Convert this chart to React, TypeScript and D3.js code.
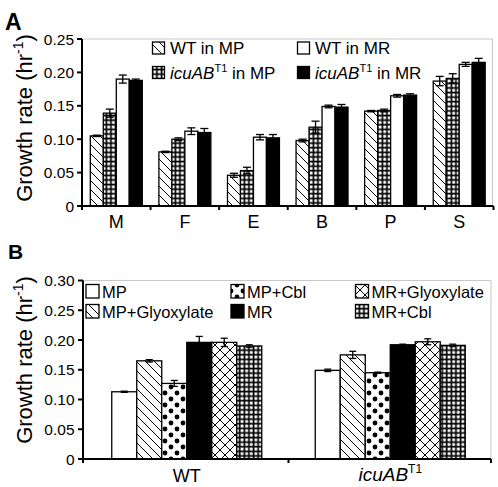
import React from "react";
import * as d3 from "d3";

// ---------- Panel A data ----------
const categoriesA = ["M", "F", "E", "B", "P", "S"];
const seriesA = ["wtMP", "icuMP", "wtMR", "icuMR"];
const wtMP = [0.105, 0.081, 0.046, 0.098, 0.142, 0.187];
const wtMPErr = [0.001, 0.001, 0.003, 0.002, 0.001, 0.007];
const icuMP = [0.139, 0.1, 0.053, 0.118, 0.143, 0.191];
const icuMPErr = [0.006, 0.002, 0.005, 0.009, 0.002, 0.007];
const wtMR = [0.19, 0.112, 0.103, 0.149, 0.165, 0.212];
const wtMRErr = [0.006, 0.005, 0.004, 0.002, 0.002, 0.003];
const icuMR = [0.188, 0.11, 0.102, 0.148, 0.166, 0.215];
const icuMRErr = [0.002, 0.006, 0.005, 0.004, 0.002, 0.006];
const ticksA = [0, 0.05, 0.1, 0.15, 0.2, 0.25];
const tickLabelsA = ["0", "0.05", "0.10", "0.15", "0.20", "0.25"];

// ---------- Panel B data ----------
const categoriesB = ["WT", "icuAB"];
const seriesB = ["MP", "MP+Glyoxylate", "MP+Cbl", "MR", "MR+Glyoxylate", "MR+Cbl"];
const bMP = [0.113, 0.149];
const bMPErr = [0.001, 0.002];
const bMPGly = [0.165, 0.175];
const bMPGlyErr = [0.002, 0.006];
const bMPCbl = [0.127, 0.145];
const bMPCblErr = [0.005, 0.001];
const bMR = [0.196, 0.192];
const bMRErr = [0.01, 0.001];
const bMRGly = [0.196, 0.197];
const bMRGlyErr = [0.007, 0.005];
const bMRCbl = [0.19, 0.191];
const bMRCblErr = [0.002, 0.002];
const ticksB = [0, 0.05, 0.1, 0.15, 0.2, 0.25, 0.3];
const tickLabelsB = ["0", "0.05", "0.10", "0.15", "0.20", "0.25", "0.30"];

const valuesA = [wtMP, icuMP, wtMR, icuMR];
const errsA = [wtMPErr, icuMPErr, wtMRErr, icuMRErr];
const fillsA = ["url(#hatch)", "url(#grid)", "#fff", "#000"];

const valuesB = [bMP, bMPGly, bMPCbl, bMR, bMRGly, bMRCbl];
const errsB = [bMPErr, bMPGlyErr, bMPCblErr, bMRErr, bMRGlyErr, bMRCblErr];
const fillsB = ["#fff", "url(#hatch)", "url(#dots)", "#000", "url(#cross)", "url(#grid)"];

const FONT = "'Liberation Sans', Arial, Helvetica, sans-serif";

function ErrorBar({ x, y0, y1, w }: { x: number; y0: number; y1: number; w: number }) {
  return (
    <g stroke="#000" strokeWidth={1.3}>
      <line x1={x} x2={x} y1={y0} y2={y1} />
      <line x1={x - w / 2} x2={x + w / 2} y1={y0} y2={y0} />
      <line x1={x - w / 2} x2={x + w / 2} y1={y1} y2={y1} />
    </g>
  );
}

function YLabel({ x, y }: { x: number; y: number }) {
  return (
    <text
      transform={`translate(${x},${y}) rotate(-90)`}
      textAnchor="middle"
      fontSize={22}
      fontFamily={FONT}
    >
      Growth rate (hr
      <tspan fontSize={14} dy={-9}>-1</tspan>
      <tspan dy={9}>)</tspan>
    </text>
  );
}

export default function App() {
  // Panel A scales
  const axA = { left: 82, right: 493.5, top: 39, bottom: 206 };
  const xA = d3.scaleBand<string>().domain(categoriesA).range([axA.left, axA.right]);
  const xAi = d3
    .scaleBand<string>()
    .domain(seriesA)
    .range([0, xA.bandwidth()])
    .paddingInner(0)
    .paddingOuter(0.64);
  const yA = d3.scaleLinear().domain([0, 0.25]).range([axA.bottom, axA.top]);

  // Panel B scales
  const axB = { left: 83, right: 491, top: 280.5, bottom: 459 };
  const xB = d3.scaleBand<string>().domain(categoriesB).range([85, 492]);
  const xBi = d3
    .scaleBand<string>()
    .domain(seriesB)
    .range([0, xB.bandwidth()])
    .paddingInner(0)
    .paddingOuter(1.07);
  const yB = d3.scaleLinear().domain([0, 0.3]).range([axB.bottom, axB.top]);

  const boundariesA = categoriesA.map((c) => xA(c)!).concat([axA.right]);

  return (
    <svg
      width={498}
      height={487}
      style={{ position: "absolute", left: 0, top: 0, background: "#fff" }}
      fontFamily={FONT}
    >
      <defs>
        <pattern id="hatch" patternUnits="userSpaceOnUse" width={9} height={9}>
          <rect width={9} height={9} fill="#fff" />
          <path d="M0,0 L9,9 M-1,8 L1,10 M8,-1 L10,1" stroke="#000" strokeWidth={1} />
        </pattern>
        <pattern id="grid" patternUnits="userSpaceOnUse" width={4.6} height={4.6}>
          <rect width={4.6} height={4.6} fill="#000" />
          <rect x={1.4} y={1.4} width={2.9} height={2.9} fill="#fff" />
        </pattern>
        <pattern id="dots" patternUnits="userSpaceOnUse" width={12} height={12}>
          <rect width={12} height={12} fill="#fff" />
          <circle cx={3} cy={3} r={2.4} fill="#000" />
          <circle cx={9} cy={9} r={2.4} fill="#000" />
        </pattern>
        <pattern id="cross" patternUnits="userSpaceOnUse" width={10} height={10}>
          <rect width={10} height={10} fill="#fff" />
          <path
            d="M0,0 L10,10 M-1,9 L1,11 M9,-1 L11,1 M0,10 L10,0 M-1,1 L1,-1 M9,11 L11,9"
            stroke="#000"
            strokeWidth={1}
          />
        </pattern>
      </defs>

      {/* ================= Panel A ================= */}
      <text x={5} y={30} fontSize={23} fontWeight="bold">A</text>
      <YLabel x={32} y={118} />

      <path
        d={`M${axA.left},${axA.top} H${axA.right - 1} V${axA.bottom}`}
        fill="none"
        stroke="#c8c8c8"
        strokeWidth={1}
      />

      {categoriesA.map((c, ci) => (
        <g key={c}>
          {seriesA.map((s, si) => {
            const x = xA(c)! + xAi(s)!;
            const v = valuesA[si][ci];
            return (
              <rect
                key={s}
                x={x}
                y={yA(v)}
                width={xAi.bandwidth()}
                height={yA(0) - yA(v)}
                fill={fillsA[si]}
                stroke="#000"
                strokeWidth={1.3}
              />
            );
          })}
          {seriesA.map((s, si) => {
            const x = xA(c)! + xAi(s)! + xAi.bandwidth() / 2;
            const v = valuesA[si][ci];
            const e = errsA[si][ci];
            return <ErrorBar key={s} x={x} y0={yA(v + e)} y1={yA(v - e)} w={8} />;
          })}
        </g>
      ))}

      <line x1={axA.left} x2={axA.left} y1={axA.top} y2={axA.bottom + 1} stroke="#000" strokeWidth={2} />
      <line x1={axA.left - 2} x2={axA.right} y1={axA.bottom} y2={axA.bottom} stroke="#000" strokeWidth={2} />
      {ticksA.map((t, i) => (
        <g key={t}>
          <line x1={axA.left - 5} x2={axA.left} y1={yA(t)} y2={yA(t)} stroke="#000" strokeWidth={2} />
          <text x={74} y={yA(t)} dy="0.36em" textAnchor="end" fontSize={15.5}>
            {tickLabelsA[i]}
          </text>
        </g>
      ))}
      {boundariesA.map((b, i) => (
        <line key={i} x1={b} x2={b} y1={axA.bottom} y2={axA.bottom + 4} stroke="#000" strokeWidth={2} />
      ))}
      {categoriesA.map((c) => (
        <text key={c} x={xA(c)! + xA.bandwidth() / 2} y={228} textAnchor="middle" fontSize={18}>
          {c}
        </text>
      ))}

      {/* legend A */}
      <rect x={152.5} y={42} width={12} height={12} fill="url(#hatch)" stroke="#000" strokeWidth={1.3} />
      <text x={170} y={54} fontSize={17}>WT in MP</text>
      <rect x={152.5} y={66.5} width={12} height={12} fill="url(#grid)" stroke="#000" strokeWidth={1.3} />
      <text x={170} y={78.5} fontSize={17}>
        <tspan fontStyle="italic">icuAB</tspan>
        <tspan fontSize={11} dy={-7}>T1</tspan>
        <tspan dy={7}> in MP</tspan>
      </text>
      <rect x={297.5} y={42} width={12} height={12} fill="#fff" stroke="#000" strokeWidth={1.3} />
      <text x={315} y={54} fontSize={17}>WT in MR</text>
      <rect x={297.5} y={66.5} width={12} height={12} fill="#000" stroke="#000" strokeWidth={1.3} />
      <text x={315} y={78.5} fontSize={17}>
        <tspan fontStyle="italic">icuAB</tspan>
        <tspan fontSize={11} dy={-7}>T1</tspan>
        <tspan dy={7}> in MR</tspan>
      </text>

      {/* ================= Panel B ================= */}
      <text x={8} y={259} fontSize={21} fontWeight="bold">B</text>
      <YLabel x={32} y={360} />

      <path
        d={`M${axB.left},${axB.top} H${axB.right} V${axB.bottom}`}
        fill="none"
        stroke="#c8c8c8"
        strokeWidth={1}
      />

      {categoriesB.map((c, ci) => (
        <g key={c}>
          {seriesB.map((s, si) => {
            const x = xB(c)! + xBi(s)!;
            const v = valuesB[si][ci];
            return (
              <rect
                key={s}
                x={x}
                y={yB(v)}
                width={xBi.bandwidth()}
                height={yB(0) - yB(v)}
                fill={fillsB[si]}
                stroke="#000"
                strokeWidth={1.3}
              />
            );
          })}
          {seriesB.map((s, si) => {
            const x = xB(c)! + xBi(s)! + xBi.bandwidth() / 2;
            const v = valuesB[si][ci];
            const e = errsB[si][ci];
            return <ErrorBar key={s} x={x} y0={yB(v + e)} y1={yB(v - e)} w={7} />;
          })}
        </g>
      ))}

      <line x1={axB.left} x2={axB.left} y1={axB.top} y2={axB.bottom + 1} stroke="#000" strokeWidth={2} />
      <line x1={axB.left - 2} x2={axB.right} y1={axB.bottom} y2={axB.bottom} stroke="#000" strokeWidth={2} />
      {ticksB.map((t, i) => (
        <g key={t}>
          <line x1={axB.left - 5} x2={axB.left} y1={yB(t)} y2={yB(t)} stroke="#000" strokeWidth={2} />
          <text x={74.5} y={yB(t)} dy="0.36em" textAnchor="end" fontSize={15.5}>
            {tickLabelsB[i]}
          </text>
        </g>
      ))}
      {[axB.left, xB(categoriesB[1])!, axB.right].map((b, i) => (
        <line key={i} x1={b} x2={b} y1={axB.bottom} y2={axB.bottom + 4} stroke="#000" strokeWidth={2} />
      ))}
      <text x={xB("WT")! + xB.bandwidth() / 2} y={482} textAnchor="middle" fontSize={18}>
        WT
      </text>
      <text x={xB("icuAB")! + xB.bandwidth() / 2} y={481} textAnchor="middle" fontSize={19}>
        <tspan fontStyle="italic">icuAB</tspan>
        <tspan fontSize={12} dy={-8}>T1</tspan>
      </text>

      {/* legend B (column-major: MP / MP+Glyoxylate, MP+Cbl / MR, MR+Glyoxylate / MR+Cbl) */}
      {seriesB.map((s, i) => {
        const col = Math.floor(i / 2);
        const row = i % 2;
        const bx = [86, 231, 355.5][col];
        const by = [284.5, 304.5][row];
        return (
          <g key={s}>
            <rect x={bx} y={by} width={13} height={13.5} fill={fillsB[i]} stroke="#000" strokeWidth={1.3} />
            <text x={bx + 16} y={by + 13.5} fontSize={16.5}>
              {s}
            </text>
          </g>
        );
      })}
    </svg>
  );
}
